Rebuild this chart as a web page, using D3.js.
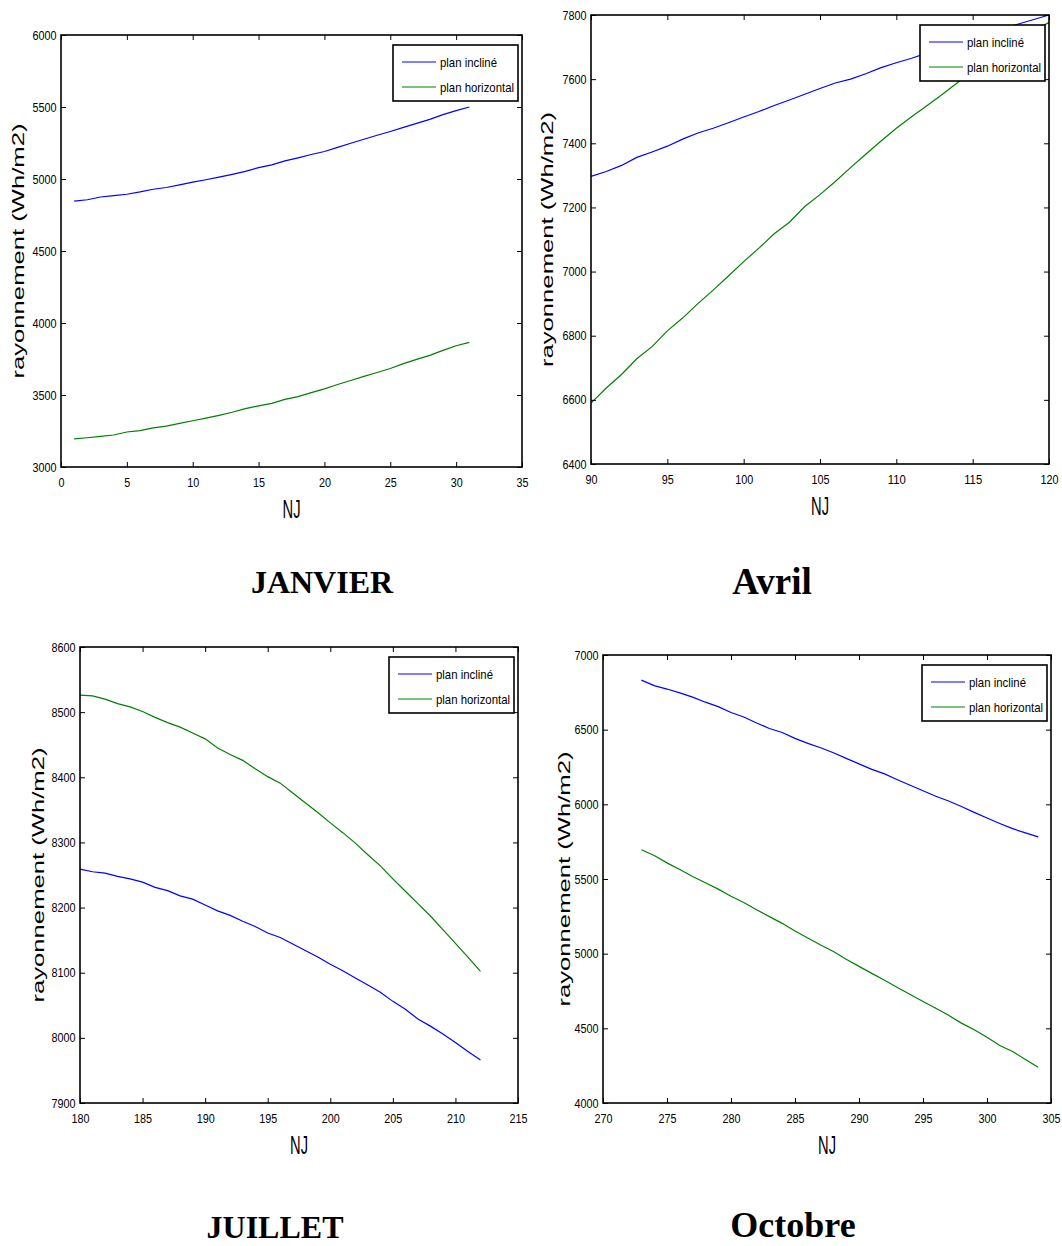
<!DOCTYPE html>
<html>
<head>
<meta charset="utf-8">
<title>Rayonnement plan incline / horizontal</title>
<script src="https://d3js.org/d3.v7.min.js"></script>
<style>
  body { margin: 0; background: #fff; }
  text { fill: #000; }
</style>
</head>
<body>
<script>
// jours (NJ) et rayonnement (Wh/m2)
var joursJanvier = [1,2,3,4,5,6,7,8,9,10,11,12,13,14,15,16,17,18,19,20,21,22,23,24,25,26,27,28,29,30,31];
var inclineJanvier = [4847,4856,4875,4884,4894,4910,4929,4941,4959,4978,4995,5013,5032,5053,5079,5098,5126,5147,5170,5191,5220,5248,5276,5304,5330,5358,5386,5414,5447,5475,5500];
var horizontalJanvier = [3195,3203,3212,3222,3243,3253,3272,3284,3303,3321,3340,3359,3380,3405,3424,3442,3470,3489,3517,3543,3573,3601,3629,3656,3684,3718,3747,3775,3810,3842,3866];

var joursAvril = [90,91,92,93,94,95,96,97,98,99,100,101,102,103,104,105,106,107,108,109,110,111,112,113,114,115,116,117,118,119,120];
var inclineAvril = [7297,7312,7331,7356,7373,7391,7413,7432,7447,7464,7482,7499,7518,7535,7553,7571,7588,7600,7617,7636,7651,7665,7681,7697,7713,7729,7744,7758,7772,7786,7800];
var horizontalAvril = [6590,6637,6679,6728,6766,6815,6855,6900,6942,6986,7031,7073,7118,7154,7203,7240,7281,7324,7366,7407,7447,7483,7517,7552,7589,7625,7660,7693,7723,7750,7777];

var joursJuillet = [180,181,182,183,184,185,186,187,188,189,190,191,192,193,194,195,196,197,198,199,200,201,202,203,204,205,206,207,208,209,210,211,212];
var inclineJuillet = [8259,8255,8253,8248,8244,8239,8231,8226,8218,8213,8204,8195,8188,8179,8171,8161,8154,8144,8134,8124,8113,8103,8092,8081,8070,8056,8044,8029,8018,8006,7993,7979,7966];
var horizontalJuillet = [8526,8525,8520,8513,8508,8501,8492,8484,8477,8468,8459,8445,8435,8426,8413,8401,8391,8376,8361,8346,8330,8315,8299,8281,8264,8244,8225,8206,8187,8166,8145,8124,8102];

var joursOctobre = [273,274,275,276,277,278,279,280,281,282,283,284,285,286,287,288,289,290,291,292,293,294,295,296,297,298,299,300,301,302,303,304];
var inclineOctobre = [6832,6795,6772,6746,6718,6684,6654,6615,6585,6545,6508,6481,6442,6408,6379,6345,6308,6271,6234,6204,6165,6128,6091,6054,6022,5985,5946,5908,5872,5837,5809,5782];
var horizontalOctobre = [5696,5657,5608,5563,5517,5475,5432,5385,5343,5294,5248,5203,5152,5105,5058,5015,4962,4915,4868,4822,4774,4727,4680,4635,4587,4535,4490,4440,4385,4345,4292,4240];

// graduations
var xTicksJanvier = [0,5,10,15,20,25,30,35];
var yTicksJanvier = [3000,3500,4000,4500,5000,5500,6000];
var xTicksAvril = [90,95,100,105,110,115,120];
var yTicksAvril = [6400,6600,6800,7000,7200,7400,7600,7800];
var xTicksJuillet = [180,185,190,195,200,205,210,215];
var yTicksJuillet = [7900,8000,8100,8200,8300,8400,8500,8600];
var xTicksOctobre = [270,275,280,285,290,295,300,305];
var yTicksOctobre = [4000,4500,5000,5500,6000,6500,7000];

var series = ["plan incliné", "plan horizontal"];
var couleurs = ["#0000ff", "#008000"];

var panels = [
  {titre: "JANVIER", jours: joursJanvier, valeurs: [inclineJanvier, horizontalJanvier],
   xTicks: xTicksJanvier, yTicks: yTicksJanvier,
   left: 61, right: 522, top: 35, bottom: 467, labelX: 23.5,
   titreX: 322, titreY: 593, titreSize: 32},
  {titre: "Avril", jours: joursAvril, valeurs: [inclineAvril, horizontalAvril],
   xTicks: xTicksAvril, yTicks: yTicksAvril,
   left: 591, right: 1049, top: 15, bottom: 464, labelX: 553,
   titreX: 772, titreY: 594, titreSize: 37},
  {titre: "JUILLET", jours: joursJuillet, valeurs: [inclineJuillet, horizontalJuillet],
   xTicks: xTicksJuillet, yTicks: yTicksJuillet,
   left: 80, right: 518, top: 647, bottom: 1103, labelX: 44,
   titreX: 275, titreY: 1238, titreSize: 32},
  {titre: "Octobre", jours: joursOctobre, valeurs: [inclineOctobre, horizontalOctobre],
   xTicks: xTicksOctobre, yTicks: yTicksOctobre,
   left: 603, right: 1051, top: 655, bottom: 1103, labelX: 570,
   titreX: 793, titreY: 1237, titreSize: 36}
];

var svg = d3.select("body").append("svg")
  .attr("width", 1062)
  .attr("height", 1246);

var sans = "'Liberation Sans', Arial, sans-serif";
var fmt = d3.format("d");

function squeeze(sel, perChar) {
  sel.selectAll("text")
    .attr("textLength", function(d) { return fmt(d).length * perChar; })
    .attr("lengthAdjust", "spacingAndGlyphs");
}

panels.forEach(function(p) {
  var x = d3.scaleLinear()
    .domain([p.xTicks[0], p.xTicks[p.xTicks.length - 1]])
    .range([p.left, p.right]);
  var y = d3.scaleLinear()
    .domain([p.yTicks[0], p.yTicks[p.yTicks.length - 1]])
    .range([p.bottom, p.top]);

  var g = svg.append("g");

  // courbes
  var line = d3.line()
    .x(function(d) { return x(d[0]); })
    .y(function(d) { return y(d[1]); });

  p.valeurs.forEach(function(vals, i) {
    g.append("path")
      .datum(p.jours.map(function(j, k) { return [j, vals[k]]; }))
      .attr("fill", "none")
      .attr("stroke", couleurs[i])
      .attr("stroke-width", 1.2)
      .attr("d", line);
  });

  // axes (graduations vers l'interieur, comme matlab)
  var bas = g.append("g")
    .attr("transform", "translate(0," + p.bottom + ")")
    .call(d3.axisBottom(x).tickValues(p.xTicks).tickFormat(fmt)
      .tickSizeInner(-5).tickSizeOuter(0).tickPadding(11));
  var gauche = g.append("g")
    .attr("transform", "translate(" + p.left + ",0)")
    .call(d3.axisLeft(y).tickValues(p.yTicks).tickFormat(fmt)
      .tickSizeInner(-5).tickSizeOuter(0).tickPadding(4.5));
  g.append("g")
    .attr("transform", "translate(0," + p.top + ")")
    .call(d3.axisTop(x).tickValues(p.xTicks).tickSizeInner(-5).tickSizeOuter(0).tickFormat(""));
  g.append("g")
    .attr("transform", "translate(" + p.right + ",0)")
    .call(d3.axisRight(y).tickValues(p.yTicks).tickSizeInner(-5).tickSizeOuter(0).tickFormat(""));

  g.selectAll(".domain").remove();
  g.selectAll(".tick line").attr("stroke", "#000");
  g.selectAll(".tick text")
    .style("font-family", sans)
    .style("font-size", "12.5px")
    .attr("fill", "#000");
  squeeze(bas, 6);
  squeeze(gauche, 6);

  g.append("rect")
    .attr("x", p.left)
    .attr("y", p.top)
    .attr("width", p.right - p.left)
    .attr("height", p.bottom - p.top)
    .attr("fill", "none")
    .attr("stroke", "#000")
    .attr("stroke-width", 1.6);

  // titres des axes
  g.append("text")
    .attr("transform", "translate(" + p.labelX + "," + ((p.top + p.bottom) / 2) + ") rotate(-90)")
    .attr("text-anchor", "middle")
    .attr("textLength", 255)
    .attr("lengthAdjust", "spacingAndGlyphs")
    .style("font-family", sans)
    .style("font-size", "16px")
    .text("rayonnement (Wh/m2)");

  g.append("text")
    .attr("x", (p.left + p.right) / 2)
    .attr("y", p.bottom + 51)
    .attr("text-anchor", "middle")
    .attr("textLength", 18)
    .attr("lengthAdjust", "spacingAndGlyphs")
    .style("font-family", sans)
    .style("font-size", "25px")
    .text("NJ");

  // legende
  var lx = p.right - 129, ly = p.top + 10;
  var leg = g.append("g").attr("transform", "translate(" + lx + "," + ly + ")");
  leg.append("rect")
    .attr("width", 125)
    .attr("height", 56)
    .attr("fill", "#fff")
    .attr("stroke", "#000")
    .attr("stroke-width", 1.6);
  series.forEach(function(s, i) {
    var yy = 17 + i * 25;
    leg.append("line")
      .attr("x1", 9).attr("x2", 43)
      .attr("y1", yy).attr("y2", yy)
      .attr("stroke", couleurs[i])
      .attr("stroke-width", 1.2);
    leg.append("text")
      .attr("x", 47)
      .attr("y", yy + 4.5)
      .attr("textLength", i === 0 ? 57 : 74)
      .attr("lengthAdjust", "spacingAndGlyphs")
      .style("font-family", sans)
      .style("font-size", "13px")
      .text(s);
  });

  // nom du mois
  svg.append("text")
    .attr("x", p.titreX)
    .attr("y", p.titreY)
    .attr("text-anchor", "middle")
    .style("font-family", "'Liberation Serif', 'Times New Roman', serif")
    .style("font-weight", "bold")
    .style("font-size", p.titreSize + "px")
    .text(p.titre);
});
</script>
</body>
</html>
